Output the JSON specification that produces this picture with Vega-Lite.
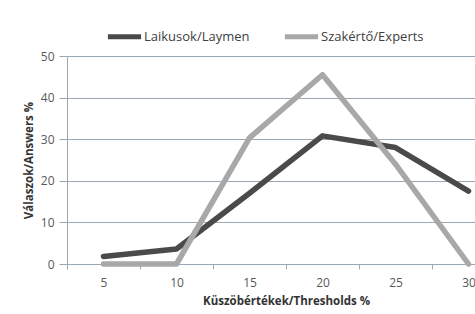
{
  "$schema": "https://vega.github.io/schema/vega-lite/v6.json",
  "width": 438,
  "height": 208,
  "autosize": {"type": "none"},
  "padding": {"left": 67, "top": 56, "right": 0, "bottom": 50},
  "background": "white",
  "config": {"font": "Open Sans", "view": {"stroke": null}},
  "data": {
    "values": [
      {"threshold": 5, "group": "Laikusok/Laymen", "value": 1.8},
      {"threshold": 10, "group": "Laikusok/Laymen", "value": 3.6},
      {"threshold": 15, "group": "Laikusok/Laymen", "value": 17},
      {"threshold": 20, "group": "Laikusok/Laymen", "value": 30.8},
      {"threshold": 25, "group": "Laikusok/Laymen", "value": 28},
      {"threshold": 30, "group": "Laikusok/Laymen", "value": 17.5},
      {"threshold": 5, "group": "Szakértő/Experts", "value": 0},
      {"threshold": 10, "group": "Szakértő/Experts", "value": 0},
      {"threshold": 15, "group": "Szakértő/Experts", "value": 30.3},
      {"threshold": 20, "group": "Szakértő/Experts", "value": 45.5},
      {"threshold": 25, "group": "Szakértő/Experts", "value": 24},
      {"threshold": 30, "group": "Szakértő/Experts", "value": 0}
    ]
  },
  "mark": {"type": "line", "strokeWidth": 5.5, "strokeCap": "round", "strokeJoin": "round"},
  "encoding": {
    "x": {
      "field": "threshold",
      "type": "ordinal",
      "bandPosition": 0.5,
      "scale": {"type": "band", "paddingInner": 0, "paddingOuter": 0},
      "axis": {
        "title": "Küszöbértékek/Thresholds %",
        "labelAngle": 0,
        "tickBand": "extent",
        "grid": false,
        "domainColor": "#9aa8b5",
        "tickColor": "#9aa8b5",
        "tickSize": 5,
        "labelPadding": 8,
        "labelFontSize": 12,
        "labelColor": "#595959",
        "titleFontSize": 11.5,
        "titleFontWeight": "bold",
        "titleColor": "#333333",
        "titlePadding": 7
      }
    },
    "y": {
      "field": "value",
      "type": "quantitative",
      "scale": {"domain": [0, 50]},
      "axis": {
        "title": "Válaszok/Answers %",
        "values": [0, 10, 20, 30, 40, 50],
        "grid": true,
        "gridColor": "#9aa8b5",
        "domainColor": "#9aa8b5",
        "tickColor": "#9aa8b5",
        "tickSize": 8,
        "labelPadding": 5,
        "labelFontSize": 12,
        "labelColor": "#595959",
        "titleFontSize": 11.5,
        "titleFontWeight": "bold",
        "titleColor": "#333333",
        "titlePadding": 6
      }
    },
    "color": {
      "field": "group",
      "type": "nominal",
      "scale": {"domain": ["Laikusok/Laymen", "Szakértő/Experts"], "range": ["#4a4a4a", "#a8a8a8"]},
      "legend": {
        "title": null,
        "orient": "none",
        "direction": "horizontal",
        "legendX": 38,
        "legendY": -39,
        "symbolType": "stroke",
        "symbolSize": 1100,
        "symbolStrokeWidth": 5,
        "labelFontSize": 13,
        "labelColor": "#404040",
        "labelOffset": 0,
        "columnPadding": 24
      }
    }
  }
}
